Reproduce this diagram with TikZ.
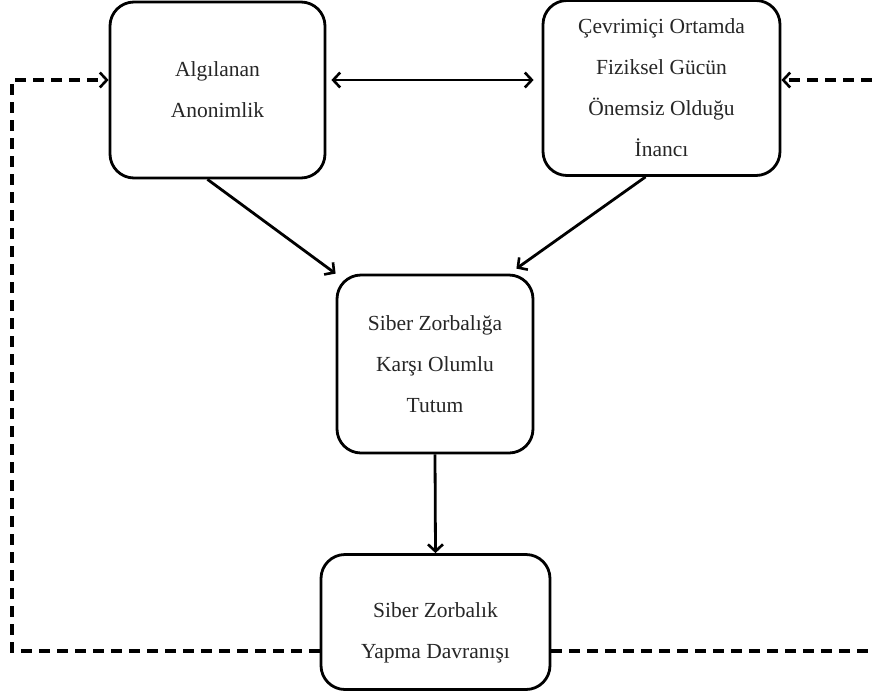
\documentclass[tikz,border=0pt]{standalone}
\usepackage{fontspec}
\setmainfont{Liberation Serif}
\usetikzlibrary{arrows.meta}
\begin{document}
\begin{tikzpicture}[x=1pt,y=-1pt,
  txt/.style={align=center, text=black!85, font=\fontsize{21.5}{41}\selectfont},
  box/.style={draw, line width=2.8pt, rounded corners=24pt, txt, inner sep=0pt},
  conn/.style={line width=2.8pt, -{Straight Barb[length=7pt,width=15pt,line width=2.6pt]}},
  dconn/.style={draw=black, line width=3.2pt, dash pattern=on 11pt off 7pt,
    -{Straight Barb[length=7pt,width=15pt,line width=2.6pt]}}]
\useasboundingbox (0,0) rectangle (873,697);
\node[box, minimum width=215pt, minimum height=176pt] (A) at (217.5,90) {Algılanan\\Anonimlik};
\node[box, minimum width=237pt, minimum height=175pt] (B) at (661.5,88) {Çevrimiçi Ortamda\\Fiziksel Gücün\\Önemsiz Olduğu\\İnancı};
\node[box, minimum width=196pt, minimum height=178pt] (C) at (435,364) {Siber Zorbalığa\\Karşı Olumlu\\Tutum};
\node[box, minimum width=229pt, minimum height=135pt,
  label={[txt, yshift=-11pt]center:Siber Zorbalık\\Yapma Davranışı}] (D) at (435.5,622) {};
\coordinate (L1) at (12,651);
\coordinate (L2) at (12,80);
\coordinate (R1) at (885,651);
\coordinate (R2) at (885,80);
\draw[line width=2.8pt, {Straight Barb[length=7pt,width=15pt,line width=2.6pt]}-{Straight Barb[length=7pt,width=15pt,line width=2.6pt]}] ([xshift=5pt]A.east |- L2) -- ([xshift=-8pt]B.west |- L2);
\draw[conn] ([xshift=-10pt]A.south) -- (C.north west);
\draw[conn] ([xshift=-16pt]B.south) -- ([xshift=-18pt,yshift=5pt]C.north east);
\draw[conn] (C.south) -- (D.north);
\draw[dconn] (D.west |- L1) -- (L1) -- (L2) -- (L2 -| A.west);
\draw[dconn] (D.east |- R1) -- (R1) -- (R2) -- (R2 -| B.east);
\end{tikzpicture}
\end{document}
